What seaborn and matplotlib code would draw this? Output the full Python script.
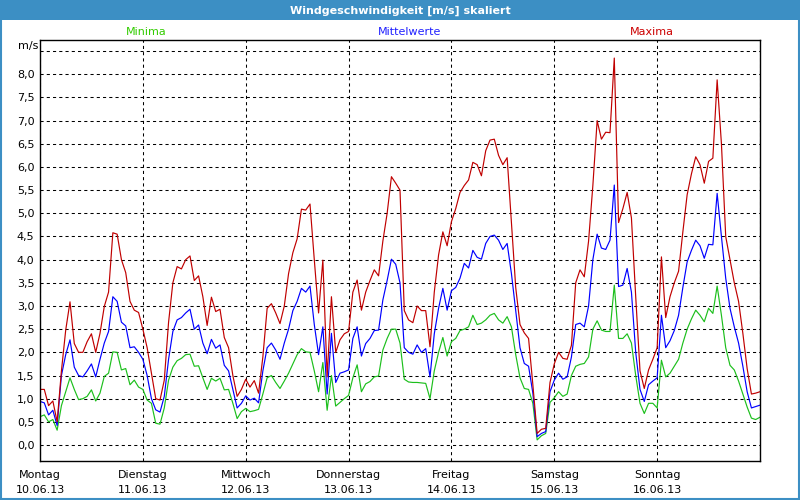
import numpy as np
import pandas as pd
import matplotlib
matplotlib.use("Agg")
import matplotlib.pyplot as plt
from matplotlib.patches import Rectangle
import seaborn as sns

# hourly values, Monday 00:00 to Monday 00:00 (168 h)
hours = list(range(169))

maxima = [1.2, 1.2, 0.85, 0.95, 0.5, 1.6, 2.48, 3.09, 2.19, 2.0,
          2.0, 2.23, 2.4, 2.0, 2.41, 2.99, 3.3, 4.58, 4.55, 4.0,
          3.72, 3.1, 2.91, 2.86, 2.5, 2.1, 1.55, 1.0, 0.97, 1.4,
          2.65, 3.5, 3.85, 3.8, 4.0, 4.08, 3.55, 3.65, 3.2, 2.58,
          3.19, 2.88, 2.93, 2.32, 2.1, 1.5, 1.05, 1.2, 1.42, 1.25,
          1.39, 1.12, 1.9, 2.95, 3.05, 2.85, 2.62, 3.0, 3.7, 4.15,
          4.45, 5.09, 5.07, 5.2, 4.0, 2.85, 3.99, 1.47, 3.2, 2.0,
          2.27, 2.4, 2.45, 3.3, 3.56, 2.91, 3.3, 3.55, 3.78, 3.65,
          4.4, 5.0, 5.79, 5.65, 5.5, 2.9, 2.7, 2.64, 3.0, 2.9,
          2.9, 2.12, 3.3, 4.1, 4.6, 4.3, 4.82, 5.1, 5.45, 5.6,
          5.72, 6.1, 6.05, 5.81, 6.35, 6.58, 6.6, 6.25, 6.05, 6.2,
          4.8, 3.4, 2.6, 2.42, 2.3, 1.3, 0.25, 0.34, 0.36, 1.35,
          1.75, 2.0, 1.87, 1.85, 2.15, 3.5, 3.78, 3.63, 4.4, 5.6,
          7.0, 6.6, 6.75, 6.74, 8.35, 4.8, 5.1, 5.45, 4.9, 3.2,
          1.6, 1.22, 1.62, 1.85, 2.1, 4.06, 2.75, 3.2, 3.5, 3.75,
          4.6, 5.4, 5.85, 6.22, 6.05, 5.65, 6.12, 6.19, 7.88, 6.5,
          4.5, 4.0, 3.5, 3.1, 2.41, 1.65, 1.1, 1.12, 1.15]

mittel = [0.94, 0.91, 0.65, 0.75, 0.42, 1.5, 1.95, 2.27, 1.68, 1.5,
          1.47, 1.6, 1.75, 1.47, 1.85, 2.2, 2.45, 3.2, 3.1, 2.65,
          2.57, 2.1, 2.12, 2.0, 1.85, 1.5, 1.0, 0.76, 0.71, 1.05,
          1.85, 2.45, 2.7, 2.75, 2.85, 2.93, 2.5, 2.59, 2.2, 1.97,
          2.28, 2.09, 2.16, 1.72, 1.6, 1.2, 0.8, 0.9, 1.06, 0.97,
          1.01, 0.91, 1.6, 2.1, 2.2, 2.05, 1.85, 2.2, 2.5, 2.9,
          3.1, 3.38, 3.3, 3.43, 2.6, 1.95, 2.55, 1.1, 2.41, 1.35,
          1.55, 1.58, 1.62, 2.3, 2.55, 1.92, 2.19, 2.3, 2.47, 2.48,
          3.13, 3.55, 4.01, 3.9, 3.5, 2.1, 2.0, 1.96, 2.16, 2.0,
          2.08, 1.47, 2.4, 2.95, 3.38, 2.91, 3.33, 3.4, 3.6, 3.92,
          3.82, 4.2, 4.05, 4.01, 4.35, 4.5, 4.53, 4.42, 4.22, 4.35,
          3.7, 2.9, 2.1, 1.76, 1.7, 1.12, 0.18, 0.25, 0.29, 1.15,
          1.4, 1.55, 1.42, 1.47, 1.9, 2.6, 2.63, 2.55, 3.0, 4.0,
          4.55, 4.25, 4.22, 4.42, 5.61, 3.42, 3.45, 3.81, 3.3, 2.0,
          1.2, 0.94, 1.3, 1.38, 1.45, 2.8, 2.1, 2.25, 2.47, 2.8,
          3.4, 3.95, 4.2, 4.42, 4.3, 4.03, 4.33, 4.32, 5.43, 4.5,
          3.6, 2.95, 2.55, 2.2, 1.7, 1.15, 0.8, 0.83, 0.86]

minima = [0.61, 0.65, 0.5, 0.55, 0.32, 0.85, 1.15, 1.45, 1.2, 0.98,
          1.0, 1.05, 1.19, 0.95, 1.12, 1.48, 1.55, 2.01, 2.0, 1.62,
          1.65, 1.3, 1.4, 1.25, 1.2, 0.97, 0.9, 0.47, 0.45, 0.8,
          1.4, 1.68, 1.82, 1.87, 1.95, 1.96, 1.7, 1.71, 1.45, 1.2,
          1.44, 1.38, 1.44, 1.19, 1.2, 0.9, 0.57, 0.72, 0.79, 0.72,
          0.74, 0.77, 1.1, 1.45, 1.5, 1.35, 1.22, 1.38, 1.55, 1.75,
          1.95, 2.08, 2.01, 2.0, 1.6, 1.15, 1.78, 0.75, 1.5, 0.84,
          0.92, 1.0, 1.07, 1.45, 1.73, 1.15, 1.32, 1.37, 1.47, 1.49,
          2.05, 2.3, 2.5, 2.5, 2.2, 1.42, 1.36, 1.35, 1.35, 1.34,
          1.33, 1.0, 1.6, 2.0, 2.32, 1.92, 2.23, 2.3, 2.47, 2.5,
          2.55, 2.8, 2.6, 2.63, 2.7, 2.8, 2.84, 2.7, 2.63, 2.77,
          2.55, 1.95, 1.45, 1.22, 1.2, 0.9, 0.11, 0.2, 0.25, 0.92,
          1.02, 1.15, 1.05, 1.1, 1.5, 1.7, 1.74, 1.76, 1.9, 2.5,
          2.68, 2.48, 2.45, 2.45, 3.45, 2.3, 2.3, 2.4, 2.2, 1.5,
          0.9, 0.68, 0.9, 0.9, 0.8, 1.83, 1.47, 1.55, 1.7, 1.85,
          2.2, 2.5, 2.72, 2.91, 2.8, 2.66, 2.95, 2.84, 3.43, 2.8,
          2.1, 1.72, 1.62, 1.38, 1.1, 0.82, 0.58, 0.55, 0.6]

day_names = ["Montag", "Dienstag", "Mittwoch", "Donnerstag", "Freitag", "Samstag", "Sonntag"]
day_dates = ["10.06.13", "11.06.13", "12.06.13", "13.06.13", "14.06.13", "15.06.13", "16.06.13"]

df = pd.DataFrame({"Stunde": hours, "Minima": minima, "Mittelwerte": mittel, "Maxima": maxima})

sns.set_theme(style="white")
plt.rcParams["font.family"] = ["DejaVu Sans"]

fig = plt.figure(figsize=(8, 5), dpi=100)
fig.patch.set_facecolor("white")

# title bar + window border
fig.patches.append(Rectangle((0, 1 - 20 / 500), 1, 20 / 500, transform=fig.transFigure,
                             facecolor="#3c8fc4", edgecolor="none", zorder=0))
fig.patches.append(Rectangle((0.001, 0.002), 0.998, 0.996, transform=fig.transFigure,
                             fill=False, edgecolor="#3c8fc4", linewidth=1.5, zorder=5))
fig.text(0.5, 1 - 10.5 / 500, "Windgeschwindigkeit [m/s] skaliert", color="white",
         fontsize=8, fontweight="bold", ha="center", va="center")

ax = fig.add_axes([0.05, 0.078, 0.9, 0.842])

sns.lineplot(data=df, x="Stunde", y="Minima", color="#1cbf1c", linewidth=0.85, ax=ax)
sns.lineplot(data=df, x="Stunde", y="Mittelwerte", color="#0000ff", linewidth=0.85, ax=ax)
sns.lineplot(data=df, x="Stunde", y="Maxima", color="#c00000", linewidth=0.85, ax=ax)

ax.set_xlim(0, 168)
ax.set_ylim(-0.345, 8.74)
ax.set_xlabel("")
ax.set_ylabel("")

ax.set_xticks([24 * i for i in range(8)])
ax.set_xticklabels([])
ax.tick_params(axis="x", length=4, width=1, color="black", direction="out")

yt = [i * 0.5 for i in range(18)]
ax.set_yticks(yt)
ax.set_yticklabels([("%.1f" % v).replace(".", ",") if v < 8.25 else "" for v in yt],
                   fontsize=8, color="black")
ax.tick_params(axis="y", length=0, pad=4)

ax.set_axisbelow(True)
ax.grid(True, color="black", linestyle=(0, (3, 3)), linewidth=0.75)
for sp in ax.spines.values():
    sp.set_color("black")
    sp.set_linewidth(1.0)

trans = ax.get_xaxis_transform()
for i, (name, date) in enumerate(zip(day_names, day_dates)):
    ax.text(24 * i, -0.034, name, transform=trans, ha="center", va="center", fontsize=8, color="black")
    ax.text(24 * i, -0.069, date, transform=trans, ha="center", va="center", fontsize=8, color="black")

fig.text(146 / 800, 1 - 32 / 500, "Minima", color="#33cc00", fontsize=8, ha="center", va="center")
fig.text(410 / 800, 1 - 32 / 500, "Mittelwerte", color="#2020ff", fontsize=8, ha="center", va="center")
fig.text(652 / 800, 1 - 32 / 500, "Maxima", color="#cc0000", fontsize=8, ha="center", va="center")
fig.text(28 / 800, 1 - 46 / 500, "m/s", color="black", fontsize=8, ha="center", va="center")

fig.savefig("out.png", dpi=100)
